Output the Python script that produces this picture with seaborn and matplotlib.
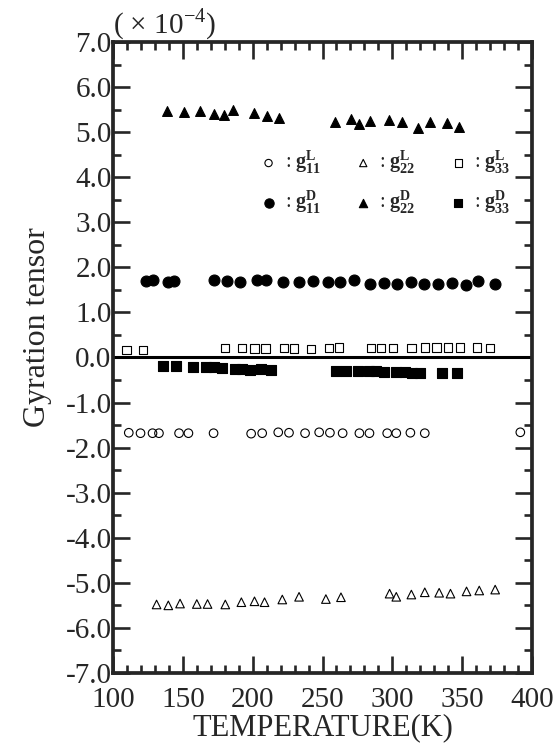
import numpy as np
import pandas as pd
import seaborn as sns
import matplotlib.pyplot as plt
from matplotlib.ticker import MultipleLocator, FormatStrFormatter

# g11 (L) open circles
t_g11_L = [111.3, 119.7, 128.3, 132.9, 147.3, 154.0, 172.0, 198.9, 206.8, 218.3, 226.0,
           237.5, 247.6, 255.3, 264.4, 276.4, 283.6, 296.3, 302.8, 312.9, 323.2, 391.6]
v_g11_L = [-1.67, -1.68, -1.68, -1.68, -1.68, -1.68, -1.68, -1.69, -1.68, -1.66, -1.67,
           -1.68, -1.66, -1.67, -1.68, -1.68, -1.68, -1.68, -1.68, -1.67, -1.68, -1.66]

# g22 (L) open triangles
t_g22_L = [131.2, 139.6, 148.0, 160.0, 167.7, 180.4, 191.9, 201.3, 208.5, 221.2, 233.2,
           252.4, 263.2, 298.0, 302.8, 313.6, 323.2, 333.5, 341.6, 353.1, 362.2, 373.6]
v_g22_L = [-5.48, -5.50, -5.46, -5.47, -5.47, -5.48, -5.43, -5.41, -5.43, -5.37, -5.31,
           -5.36, -5.32, -5.24, -5.31, -5.26, -5.21, -5.22, -5.24, -5.19, -5.17, -5.15]

# g33 (L) open squares
t_g33_L = [109.6, 121.6, 180.4, 192.4, 201.3, 209.2, 222.4, 229.6, 241.6, 254.8, 262.0,
           284.8, 292.0, 300.4, 313.6, 323.2, 331.6, 340.0, 348.4, 360.4, 370.0]
v_g33_L = [0.17, 0.17, 0.21, 0.21, 0.20, 0.20, 0.21, 0.20, 0.19, 0.21, 0.22,
           0.21, 0.21, 0.21, 0.21, 0.22, 0.22, 0.22, 0.22, 0.22, 0.21]

# g11 (D) filled circles
t_g11_D = [123.3, 128.8, 139.6, 143.9, 172.0, 181.6, 190.7, 203.2, 209.2, 221.7, 233.2,
           243.3, 253.6, 262.5, 272.8, 284.3, 293.7, 303.3, 313.6, 322.5, 332.8, 342.4,
           352.7, 361.6, 373.6]
v_g11_D = [1.70, 1.72, 1.68, 1.70, 1.72, 1.70, 1.68, 1.72, 1.72, 1.68, 1.67,
           1.70, 1.67, 1.68, 1.71, 1.64, 1.65, 1.63, 1.67, 1.63, 1.64, 1.65,
           1.61, 1.70, 1.64]

# g22 (D) filled triangles
t_g22_D = [138.9, 150.9, 162.4, 172.0, 179.2, 185.7, 200.8, 210.4, 218.8,
           258.9, 270.4, 276.4, 284.3, 297.5, 307.1, 318.4, 326.8, 338.8, 347.9]
v_g22_D = [5.46, 5.45, 5.46, 5.40, 5.37, 5.48, 5.42, 5.35, 5.32,
           5.23, 5.29, 5.17, 5.25, 5.27, 5.23, 5.09, 5.22, 5.20, 5.12]

# g33 (D) filled squares
t_g33_D = [136.0, 144.8, 157.6, 166.4, 172.6, 178.0, 187.5, 192.3, 197.8, 205.6, 212.8,
           259.6, 266.8, 275.2, 283.1, 288.4, 293.7, 302.8, 308.8, 314.3, 319.6, 335.2, 346.0]
v_g33_D = [-0.20, -0.20, -0.22, -0.22, -0.22, -0.24, -0.25, -0.26, -0.27, -0.25, -0.27,
           -0.30, -0.30, -0.31, -0.31, -0.30, -0.32, -0.33, -0.33, -0.35, -0.35, -0.34, -0.35]

x_ticks = [100, 150, 200, 250, 300, 350, 400]

sns.set_style('ticks')
plt.rcParams['font.family'] = ['Liberation Serif', 'DejaVu Serif']
plt.rcParams['mathtext.fontset'] = 'custom'
plt.rcParams['mathtext.rm'] = 'Liberation Serif'
plt.rcParams['mathtext.bf'] = 'Liberation Serif:bold'
plt.rcParams['axes.unicode_minus'] = False

series = [
    (t_g11_L, v_g11_L, 'o', 'none', 38, r': $\mathbf{g}_{\mathbf{11}}^{\mathbf{L}}$'),
    (t_g11_D, v_g11_D, 'o', 'black', 62, r': $\mathbf{g}_{\mathbf{11}}^{\mathbf{D}}$'),
    (t_g22_L, v_g22_L, '^', 'none', 38, r': $\mathbf{g}_{\mathbf{22}}^{\mathbf{L}}$'),
    (t_g22_D, v_g22_D, '^', 'black', 50, r': $\mathbf{g}_{\mathbf{22}}^{\mathbf{D}}$'),
    (t_g33_L, v_g33_L, 's', 'none', 36, r': $\mathbf{g}_{\mathbf{33}}^{\mathbf{L}}$'),
    (t_g33_D, v_g33_D, 's', 'black', 46, r': $\mathbf{g}_{\mathbf{33}}^{\mathbf{D}}$'),
]

fig = plt.figure(figsize=(5.58, 7.47), dpi=100)
ax = fig.add_axes([0.2025, 0.0991, 0.751, 0.8447])

for t, v, m, fc, s, lab in series:
    df = pd.DataFrame({'T': t, 'g': v})
    sns.scatterplot(data=df, x='T', y='g', marker=m, s=s, facecolor=fc,
                    edgecolor='black', linewidth=0.8, label=lab, ax=ax, zorder=3)

ax.axhline(0, color='black', lw=2.2, zorder=2)

ax.set_xlim(100, 400)
ax.set_ylim(-7, 7)
ax.set_xticks(x_ticks)
ax.xaxis.set_minor_locator(MultipleLocator(10))
ax.yaxis.set_major_locator(MultipleLocator(1.0))
ax.yaxis.set_minor_locator(MultipleLocator(0.5))
ax.yaxis.set_major_formatter(FormatStrFormatter('%.1f'))
ax.tick_params(which='both', direction='in', top=True, right=True, width=1.9,
               labelsize=21)
ax.tick_params(which='major', length=12)
ax.tick_params(which='minor', length=6)
ax.tick_params(axis='y', pad=1)
ax.tick_params(axis='x', pad=10)
for sp in ax.spines.values():
    sp.set_linewidth(2.7)

ax.set_xlabel('TEMPERATURE(K)', fontsize=22, labelpad=0)
ax.set_ylabel('Gyration tensor', fontsize=23, labelpad=6)
ax.yaxis.set_label_coords(-0.145, 0.548)
ax.text(0.122, 1.0, r'( $\times$ 10$^{\mathrm{-}4}$)', transform=ax.transAxes,
        ha='center', va='bottom', fontsize=21)

handles, labels = ax.get_legend_handles_labels()
ax.legend(handles, labels, ncol=3, frameon=False, loc='center',
          bbox_to_anchor=(0.636, 0.778), fontsize=14.5, handletextpad=-0.2,
          columnspacing=1.1, markerscale=0.85, labelspacing=0.6)

plt.savefig('out.png', dpi=100)
